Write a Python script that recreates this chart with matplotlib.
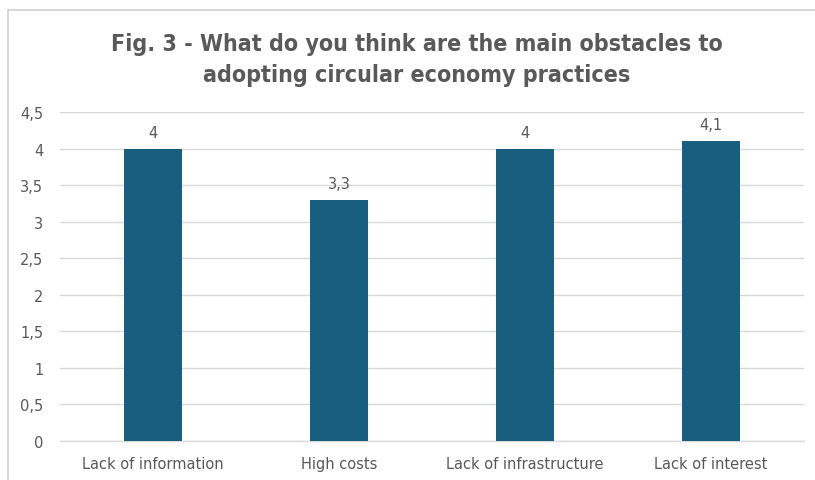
import matplotlib.pyplot as plt
from matplotlib.patches import Rectangle

categories = ['Lack of information', 'High costs', 'Lack of infrastructure', 'Lack of interest']
values = [4.0, 3.3, 4.0, 4.1]
value_labels = ['4', '3,3', '4', '4,1']
yticks = [0, 0.5, 1, 1.5, 2, 2.5, 3, 3.5, 4, 4.5]
ytick_labels = ['0', '0,5', '1', '1,5', '2', '2,5', '3', '3,5', '4', '4,5']
title = 'Fig. 3 - What do you think are the main obstacles to\nadopting circular economy practices'

txt = '#595959'
fig = plt.figure(figsize=(8.15, 4.81), dpi=100)
# light frame around the chart area
fig.patches.append(Rectangle((8/815, -0.01), 1.0, 1.0 - 11/481 + 0.01, transform=fig.transFigure,
                             fill=False, edgecolor='#d0d0d0', linewidth=1.2))
ax = fig.add_axes([60/815, 39/481, 744/815, 329/481])

x = range(len(categories))
ax.bar(x, values, width=0.31, color='#175e7f', zorder=3)
for i, v in enumerate(values):
    ax.text(i, v + 0.12, value_labels[i], ha='center', va='bottom', fontsize=10.5, color=txt)

ax.set_xlim(-0.5, 3.5)
ax.set_ylim(0, 4.5)
ax.set_yticks(yticks)
ax.set_yticklabels(ytick_labels)
ax.set_xticks(list(x))
ax.set_xticklabels(categories)
ax.tick_params(length=0, labelsize=10.5, colors=txt)
ax.tick_params(axis='y', pad=12)
ax.tick_params(axis='x', pad=11)
ax.grid(axis='y', color='#d9d9d9', linewidth=1, zorder=0)
ax.axhline(0, color='#d9d9d9', linewidth=1, zorder=1, clip_on=False)
for s in ax.spines.values():
    s.set_visible(False)

fig.text(417/815, 1 - 60/481, title, ha='center', va='center', fontsize=16.7, fontweight='bold',
         color=txt, family='DejaVu Sans', stretch='condensed', linespacing=1.4)

fig.savefig('out.png', dpi=100)
